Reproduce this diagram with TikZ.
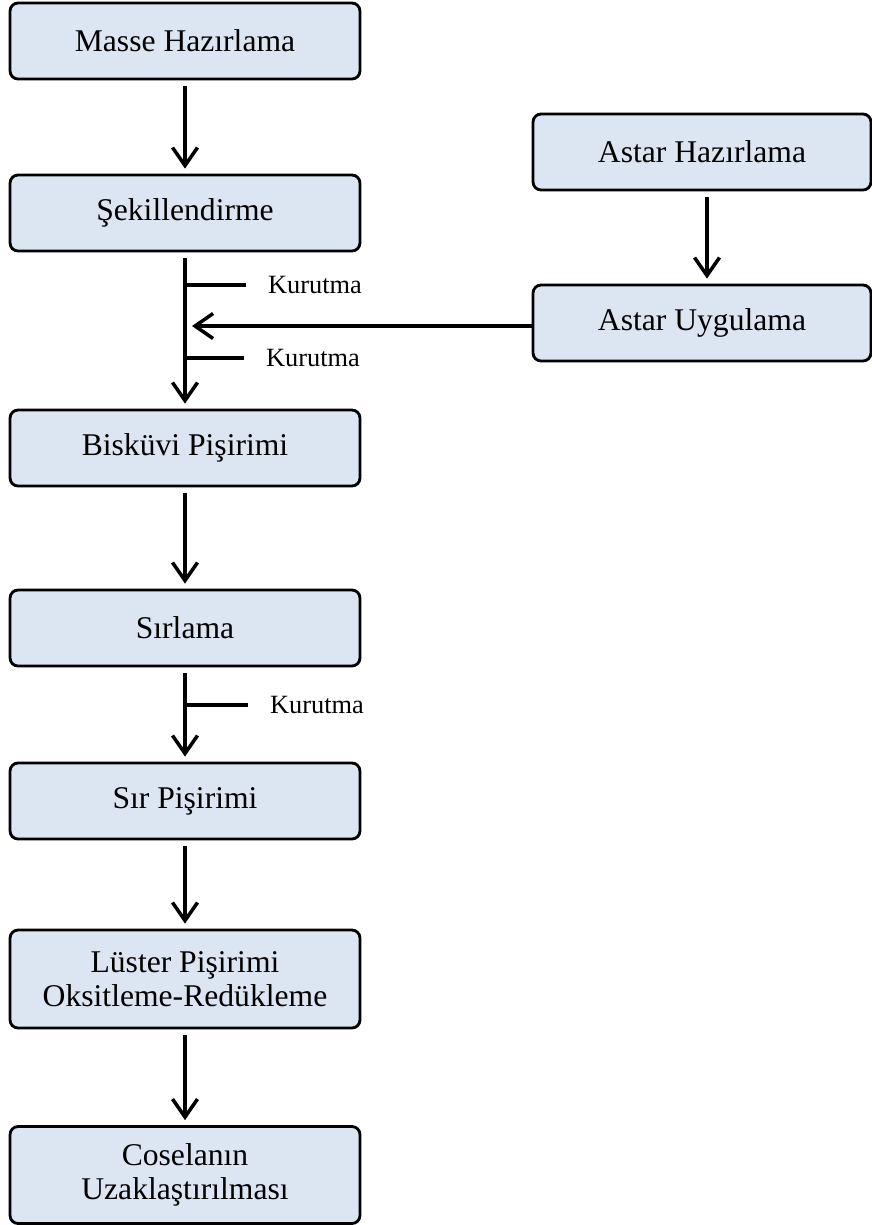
\documentclass[tikz,border=0pt]{standalone}
\usepackage{fontspec}
\setmainfont{Liberation Serif}
\usetikzlibrary{arrows.meta}
\definecolor{boxfill}{HTML}{DCE6F2}
\tikzset{
  proc/.style={draw, line width=1.6pt, rounded corners=0.16cm, fill=boxfill,
    minimum width=7cm, minimum height=1.52cm, align=center,
    font=\fontsize{18}{19.5}\selectfont},
  flow/.style={line width=2pt, -{Straight Barb[length=0.36cm,width=0.5cm,line width=2pt]},
    shorten <=0.12cm, shorten >=0.1cm},
  tick/.style={line width=2pt, shorten >=0.33cm},
  note/.style={font=\fontsize{15}{17}\selectfont, anchor=west}
}
\begin{document}
\begin{tikzpicture}[x=0.02cm, y=-0.02cm]
  \useasboundingbox (0,0) rectangle (872,1225);
  % main column
  \node[proc] (masse) at (185,41) {Masse Hazırlama};
  \node[proc] (sekil) at (185,213) {Şekillendirme};
  \node[proc] (biskuvi) at (185,448) {Bisküvi Pişirimi};
  \node[proc] (sirlama) at (185,628) {Sırlama};
  \node[proc] (sirpis) at (185,801) {Sır Pişirimi};
  \node[proc, minimum height=1.96cm] (luster) at (185,979) {Lüster Pişirimi\\Oksitleme-Redükleme};
  \node[proc, minimum height=1.94cm] (cosel) at (185,1175) {Coselanın\\Uzaklaştırılması};
  % astar branch
  \node[proc, minimum width=6.76cm] (astarh) at (702,152) {Astar Hazırlama};
  \node[proc, minimum width=6.76cm] (astaru) at (702,323) {Astar Uygulama};
  % arrows
  \draw[flow] (masse) -- (sekil);
  \draw[flow] (sekil) -- (biskuvi);
  \draw[flow] (biskuvi) -- (sirlama);
  \draw[flow] (sirlama) -- (sirpis);
  \draw[flow] (sirpis) -- (luster);
  \draw[flow] (luster) -- (cosel);
  \draw[flow] ([xshift=0.1cm]astarh.south) -- ([xshift=0.1cm]astaru.north);
  \coordinate (join) at (187,326);
  \draw[flow, shorten <=0pt] (astaru.west |- join) -- (join);
  % kurutma
  \node[note] (kur1) at (262,285) {Kurutma};
  \node[note] (kur2) at (260,358) {Kurutma};
  \node[note] (kur3) at (264,705) {Kurutma};
  \coordinate (t1) at (186,285);
  \coordinate (t2) at (186,358);
  \coordinate (t3) at (186,705);
  \draw[tick] (t1) -- (kur1.west);
  \draw[tick] (t2) -- (kur2.west);
  \draw[tick] (t3) -- (kur3.west);
\end{tikzpicture}
\end{document}
